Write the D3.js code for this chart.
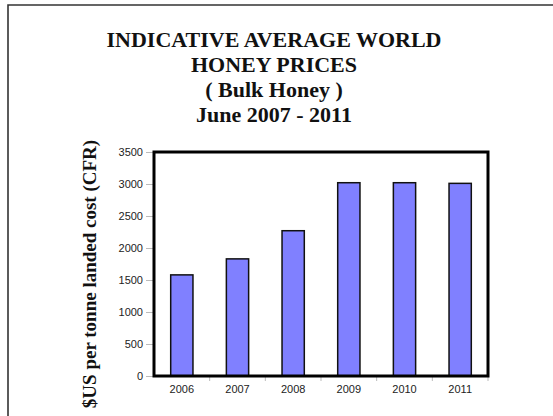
<!DOCTYPE html>
<html>
<head>
<meta charset="utf-8">
<script src="https://cdn.jsdelivr.net/npm/d3@7"></script>
<style>
  html, body { margin: 0; padding: 0; background: #fff; }
  svg { display: block; }
</style>
</head>
<body>
<svg id="chart" width="553" height="416"></svg>
<script>
const years = ["2006", "2007", "2008", "2009", "2010", "2011"];
const prices = [1580, 1830, 2270, 3020, 3020, 3010];
const yTicks = [0, 500, 1000, 1500, 2000, 2500, 3000, 3500];
const titleLines = ["INDICATIVE AVERAGE WORLD", "HONEY PRICES", "( Bulk Honey )", "June 2007 - 2011"];
const yTitle = "$US per tonne landed cost (CFR)";

const svg = d3.select("#chart");
const W = 553, H = 416;
const plot = { left: 154, right: 488, top: 152, bottom: 376 };

svg.append("rect").attr("width", W).attr("height", H).attr("fill", "#fff");

// outer frame (top and left edges visible)
svg.append("path")
  .attr("d", `M8,${H + 2} L8,5 L${W + 2},5`)
  .attr("fill", "none").attr("stroke", "#333").attr("stroke-width", 1.6);

// title
const title = svg.append("text")
  .attr("text-anchor", "middle")
  .attr("font-family", "'Liberation Serif', 'Times New Roman', serif")
  .attr("font-weight", "bold")
  .attr("font-size", 22)
  .attr("fill", "#111");
titleLines.forEach((t, i) => {
  title.append("tspan").attr("x", 274).attr("y", 47 + i * 25).text(t);
});

const x = d3.scaleBand().domain(years).range([plot.left, plot.right]).paddingInner(0.6).paddingOuter(0.3);
const xb = d3.scaleBand().domain(years).range([plot.left, plot.right]);
const y = d3.scaleLinear().domain([0, 3500]).range([plot.bottom, plot.top]);

// y axis
const yAxis = svg.append("g")
  .attr("transform", `translate(${plot.left},0)`)
  .call(d3.axisLeft(y).tickValues(yTicks).tickFormat(d3.format("d")).tickSize(8).tickPadding(3));
yAxis.select(".domain").remove();
yAxis.selectAll(".tick line").attr("stroke", "#aaa").attr("stroke-width", 0.8);
yAxis.selectAll(".tick text")
  .attr("font-family", "'Liberation Sans', Arial, sans-serif")
  .attr("font-size", 11).attr("fill", "#222");

// x axis
const xAxis = svg.append("g")
  .attr("transform", `translate(0,${plot.bottom})`)
  .call(d3.axisBottom(xb).tickSize(0).tickPadding(9));
xAxis.select(".domain").remove();
xAxis.selectAll(".tick text")
  .attr("font-family", "'Liberation Sans', Arial, sans-serif")
  .attr("font-size", 11).attr("fill", "#222");
// boundary tick marks below the axis
svg.append("g").selectAll("line")
  .data(years.slice(1))
  .join("line")
  .attr("x1", d => xb(d)).attr("x2", d => xb(d))
  .attr("y1", plot.bottom).attr("y2", plot.bottom + 5)
  .attr("stroke", "#aaa").attr("stroke-width", 0.8);
svg.append("line")
  .attr("x1", plot.right).attr("x2", plot.right)
  .attr("y1", plot.bottom).attr("y2", plot.bottom + 5)
  .attr("stroke", "#aaa").attr("stroke-width", 0.8);

// bars
svg.append("g").selectAll("rect")
  .data(years.map((d, i) => ({ year: d, v: prices[i] })))
  .join("rect")
  .attr("x", d => x(d.year))
  .attr("width", x.bandwidth())
  .attr("y", d => y(d.v))
  .attr("height", d => y(0) - y(d.v))
  .attr("fill", "#8080ff")
  .attr("stroke", "#111")
  .attr("stroke-width", 1.5);

// plot box
svg.append("rect")
  .attr("x", plot.left).attr("y", plot.top)
  .attr("width", plot.right - plot.left).attr("height", plot.bottom - plot.top)
  .attr("fill", "none").attr("stroke", "#000").attr("stroke-width", 3);

// y axis title
svg.append("text")
  .attr("transform", `translate(96,${(plot.top + plot.bottom) / 2 + 10}) rotate(-90)`)
  .attr("text-anchor", "middle")
  .attr("font-family", "'Liberation Serif', 'Times New Roman', serif")
  .attr("font-weight", "bold")
  .attr("font-size", 19)
  .attr("fill", "#111")
  .text(yTitle);
</script>
</body>
</html>
